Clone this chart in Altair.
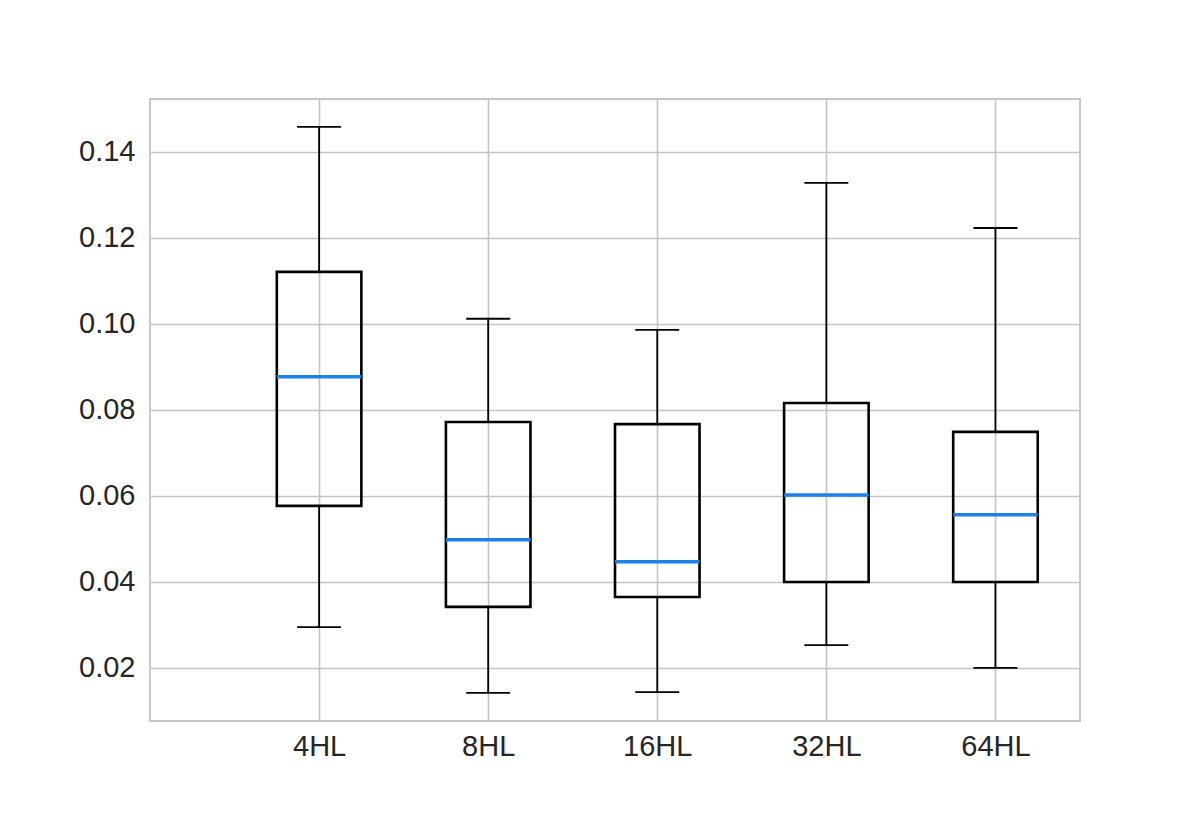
import altair as alt
import pandas as pd

# data
categories = ["4HL", "8HL", "16HL", "32HL", "64HL"]
positions = [1, 2, 3, 4, 5]
whisker_low = [0.0295, 0.0142, 0.0144, 0.0253, 0.0200]
q1 = [0.0577, 0.0342, 0.0365, 0.0400, 0.0400]
median = [0.0877, 0.0498, 0.0447, 0.0602, 0.0556]
q3 = [0.1121, 0.0772, 0.0767, 0.0816, 0.0749]
whisker_high = [0.1458, 0.1012, 0.0986, 0.1328, 0.1223]
y_ticks = [0.02, 0.04, 0.06, 0.08, 0.10, 0.12, 0.14]

df = pd.DataFrame({
    "cat": categories, "pos": positions, "lo": whisker_low, "q1": q1,
    "med": median, "q3": q3, "hi": whisker_high,
})

label_arr = "[" + ",".join(["''"] + [f"'{c}'" for c in categories]) + "]"

xscale = alt.Scale(domain=[0, 5.5], nice=False, zero=False)
yscale = alt.Scale(domain=[0.00767, 0.1523], nice=False, zero=False)

xaxis = alt.Axis(values=positions, labelExpr=f"{label_arr}[datum.value]", title=None,
                 domain=False, ticks=False, grid=True, labelPadding=11)
yaxis = alt.Axis(values=y_ticks, format=".2f", title=None, domain=False, ticks=False,
                 grid=True, labelPadding=15)

base = alt.Chart(df).transform_calculate(
    bx1="datum.pos - 0.25", bx2="datum.pos + 0.25",
    cx1="datum.pos - 0.13", cx2="datum.pos + 0.13",
)

lower_whisker = base.mark_rule(color="black", strokeWidth=1.8).encode(
    x=alt.X("pos:Q", scale=xscale, axis=xaxis),
    y=alt.Y("lo:Q", scale=yscale, axis=yaxis),
    y2="q1:Q",
)
upper_whisker = base.mark_rule(color="black", strokeWidth=1.8).encode(
    x=alt.X("pos:Q", scale=xscale), y=alt.Y("q3:Q", scale=yscale), y2="hi:Q",
)
low_cap = base.mark_rule(color="black", strokeWidth=1.8).encode(
    x=alt.X("cx1:Q", scale=xscale), x2="cx2:Q", y=alt.Y("lo:Q", scale=yscale),
)
high_cap = base.mark_rule(color="black", strokeWidth=1.8).encode(
    x=alt.X("cx1:Q", scale=xscale), x2="cx2:Q", y=alt.Y("hi:Q", scale=yscale),
)
box = base.mark_rect(fill=None, stroke="black", strokeWidth=2.6).encode(
    x=alt.X("bx1:Q", scale=xscale), x2="bx2:Q",
    y=alt.Y("q1:Q", scale=yscale), y2="q3:Q",
)
med = base.mark_rule(color="#1e80e8", strokeWidth=3.5).encode(
    x=alt.X("bx1:Q", scale=xscale), x2="bx2:Q", y=alt.Y("med:Q", scale=yscale),
)

chart = alt.layer(lower_whisker, upper_whisker, low_cap, high_cap, box, med).properties(
    width=930, height=622,
    autosize=alt.AutoSizeParams(type="none"),
    padding={"left": 142, "top": 91, "right": 112, "bottom": 60},
    background="white",
).configure_view(
    stroke="#c4c4c4", strokeWidth=1.8,
).configure_axis(
    gridColor="#c4c4c4", gridWidth=1.6, labelFont="Liberation Sans",
    labelFontSize=29, labelColor="#262626",
)

chart.save("out.html", embed_options={"renderer": "svg", "actions": False})
